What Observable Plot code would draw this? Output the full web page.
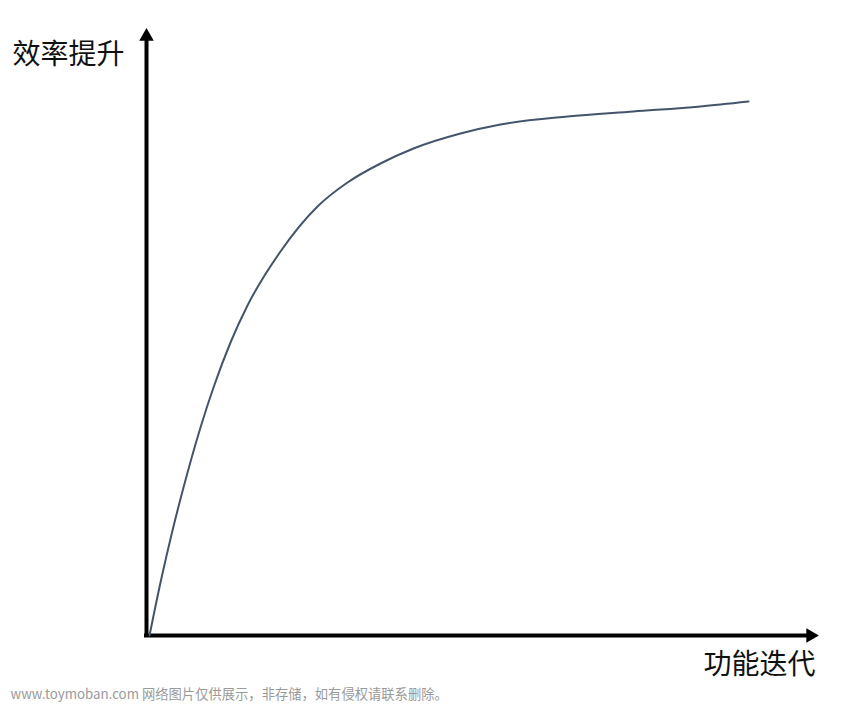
<!DOCTYPE html>
<html>
<head>
<meta charset="utf-8">
<script src="https://cdn.jsdelivr.net/npm/d3@7"></script>
<script src="https://cdn.jsdelivr.net/npm/@observablehq/plot@0.6"></script>
<style>
  html, body { margin: 0; padding: 0; background: #fff; }
  #chart svg { display: block; }
</style>
</head>
<body>
<div id="chart"></div>
<script>
// Curve: 功能迭代 (x) vs 效率提升 (y)
const iterX = [2, 13, 25, 36, 53, 66, 83, 100, 133, 170, 200, 233, 266, 313, 353, 420, 486, 553, 601];
const gainY = [0, 53, 105, 148, 208, 248, 293, 330, 384, 429, 453, 472, 487, 502, 511, 519, 524, 529, 534];

const xMax = 671;   // x axis extent (arrow tip)
const yMax = 607;   // y axis extent (arrow tip)

const yLabel = "效率提升";
const xLabel = "功能迭代";
const watermark = "www.toymoban.com 网络图片仅供展示，非存储，如有侵权请联系删除。";

const curve = iterX.map((x, i) => ({x, y: gainY[i]}));

const chart = Plot.plot({
  width: 856,
  height: 704,
  marginLeft: 147,
  marginRight: 38,
  marginTop: 28,
  marginBottom: 69,
  x: {domain: [0, xMax], axis: null},
  y: {domain: [0, yMax], axis: null},
  marks: [
    // axes
    Plot.ruleX([-1], {y1: 0, y2: yMax - 10, stroke: "#000", strokeWidth: 4}),
    Plot.ruleY([0], {x1: -3, x2: xMax - 10, stroke: "#000", strokeWidth: 4}),
    // arrow heads
    Plot.dot([{x: -1, y: yMax - 8}], {x: "x", y: "y", symbol: "triangle", r: 5.4, fill: "#000", stroke: "none"}),
    Plot.dot([{x: xMax - 8, y: 0}], {x: "x", y: "y", symbol: "triangle", r: 5.4, fill: "#000", stroke: "none", rotate: 90}),
    // curve
    Plot.line(curve, {x: "x", y: "y", curve: "monotone-x", stroke: "#44546a", strokeWidth: 2}),
    // labels
    Plot.text([yLabel], {x: -135, y: 580, text: d => d, textAnchor: "start", fontSize: 28, fill: "#111",
      fontFamily: "'Noto Sans CJK SC', sans-serif"}),
    Plot.text([xLabel], {x: xMax - 3, y: -30, text: d => d, textAnchor: "end", fontSize: 28, fill: "#111",
      fontFamily: "'Noto Sans CJK SC', sans-serif"}),
    Plot.text([watermark], {x: -137, y: -59, text: d => d, textAnchor: "start", fontSize: 13.3, fill: "#9a9a9a",
      fontFamily: "'Noto Sans CJK SC', 'Open Sans', sans-serif"})
  ]
});
document.getElementById("chart").appendChild(chart);
</script>
</body>
</html>
